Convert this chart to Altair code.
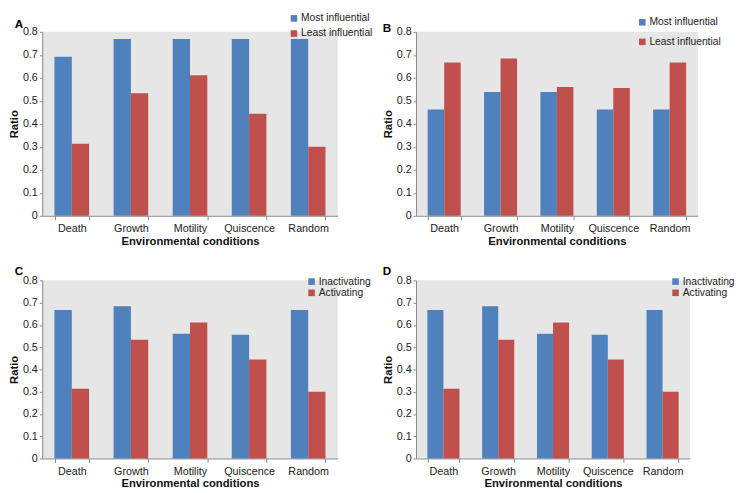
import altair as alt
import pandas as pd

categories = ["Death", "Growth", "Motility", "Quiscence", "Random"]

a_most = [0.692, 0.769, 0.769, 0.769, 0.769]
a_least = [0.313, 0.533, 0.611, 0.444, 0.300]
b_most = [0.462, 0.538, 0.538, 0.462, 0.462]
b_least = [0.667, 0.684, 0.560, 0.556, 0.667]
c_inact = [0.667, 0.684, 0.560, 0.556, 0.667]
c_act = [0.313, 0.533, 0.611, 0.444, 0.300]
d_inact = [0.667, 0.684, 0.560, 0.556, 0.667]
d_act = [0.313, 0.533, 0.611, 0.444, 0.300]

series_ab = ["Most influential", "Least influential"]
series_cd = ["Inactivating", "Activating"]

BLUE = "#4F81BD"
RED = "#C0504D"
FONT = "Liberation Sans"


def make_df(s1, s2, names):
    rows = []
    for i, c in enumerate(categories):
        rows.append({"cat": c, "series": names[0], "value": s1[i]})
        rows.append({"cat": c, "series": names[1], "value": s2[i]})
    return pd.DataFrame(rows)


def panel(letter, df, names, width, height, title_dx, title_off, lx, ly, row_pad):
    return alt.Chart(df).mark_bar().encode(
        x=alt.X("cat:N", sort=categories,
                scale=alt.Scale(paddingInner=0.414, paddingOuter=0.207),
                axis=alt.Axis(title="Environmental conditions", labelAngle=0,
                              tickBand="extent", domainColor="#888888",
                              tickColor="#888888", tickSize=4, labelPadding=3,
                              titlePadding=2)),
        xOffset=alt.XOffset("series:N", sort=names,
                            scale=alt.Scale(paddingInner=0, paddingOuter=0)),
        y=alt.Y("value:Q", scale=alt.Scale(domain=[0, 0.8], nice=False),
                axis=alt.Axis(title="Ratio", values=[0, 0.1, 0.2, 0.3, 0.4, 0.5, 0.6, 0.7, 0.8],
                              format=".1~f", grid=False, domainColor="#888888",
                              tickColor="#888888", tickSize=3, labelPadding=2,
                              titlePadding=3)),
        color=alt.Color("series:N", sort=names,
                        scale=alt.Scale(domain=names, range=[BLUE, RED]),
                        legend=alt.Legend(title=None, orient="none", legendX=lx, legendY=ly,
                                          symbolType="square", symbolSize=45,
                                          symbolStrokeWidth=0, labelFontSize=10.5,
                                          labelFont=FONT, labelColor="#222222",
                                          rowPadding=row_pad, labelOffset=2, padding=0)),
    ).properties(
        width=width, height=height,
        title=alt.TitleParams(letter, anchor="start", frame="group", dx=title_dx,
                              fontSize=12, fontWeight="bold", font=FONT, offset=title_off),
    )


pa = panel("A", make_df(a_most, a_least, series_ab), series_ab, 302, 188, -28, -18, 252, -19, 4.5)
pb = panel("B", make_df(b_most, b_least, series_ab), series_ab, 288, 188, -34, -18, 226, -15, 9)
pc = panel("C", make_df(c_inact, c_act, series_cd), series_cd, 302, 182, -28, -4, 270, -4, 0.5)
pd_ = panel("D", make_df(d_inact, d_act, series_cd), series_cd, 280, 182, -34, -4, 260, -4, 0.5)

chart = alt.concat(pa, pb, pc, pd_, columns=2, spacing={"row": 66, "column": 80},
                   bounds="flush").resolve_scale(
    color="independent", xOffset="independent"
).properties(padding=0).configure_view(
    fill="#E6E6E6", stroke=None
).configure_axis(
    labelFont=FONT, titleFont=FONT, labelFontSize=11, titleFontSize=11.5,
    labelColor="#222222", titleColor="#111111", titleFontWeight="bold"
)

chart.save("out.html", embed_options={"renderer": "svg", "actions": False})
